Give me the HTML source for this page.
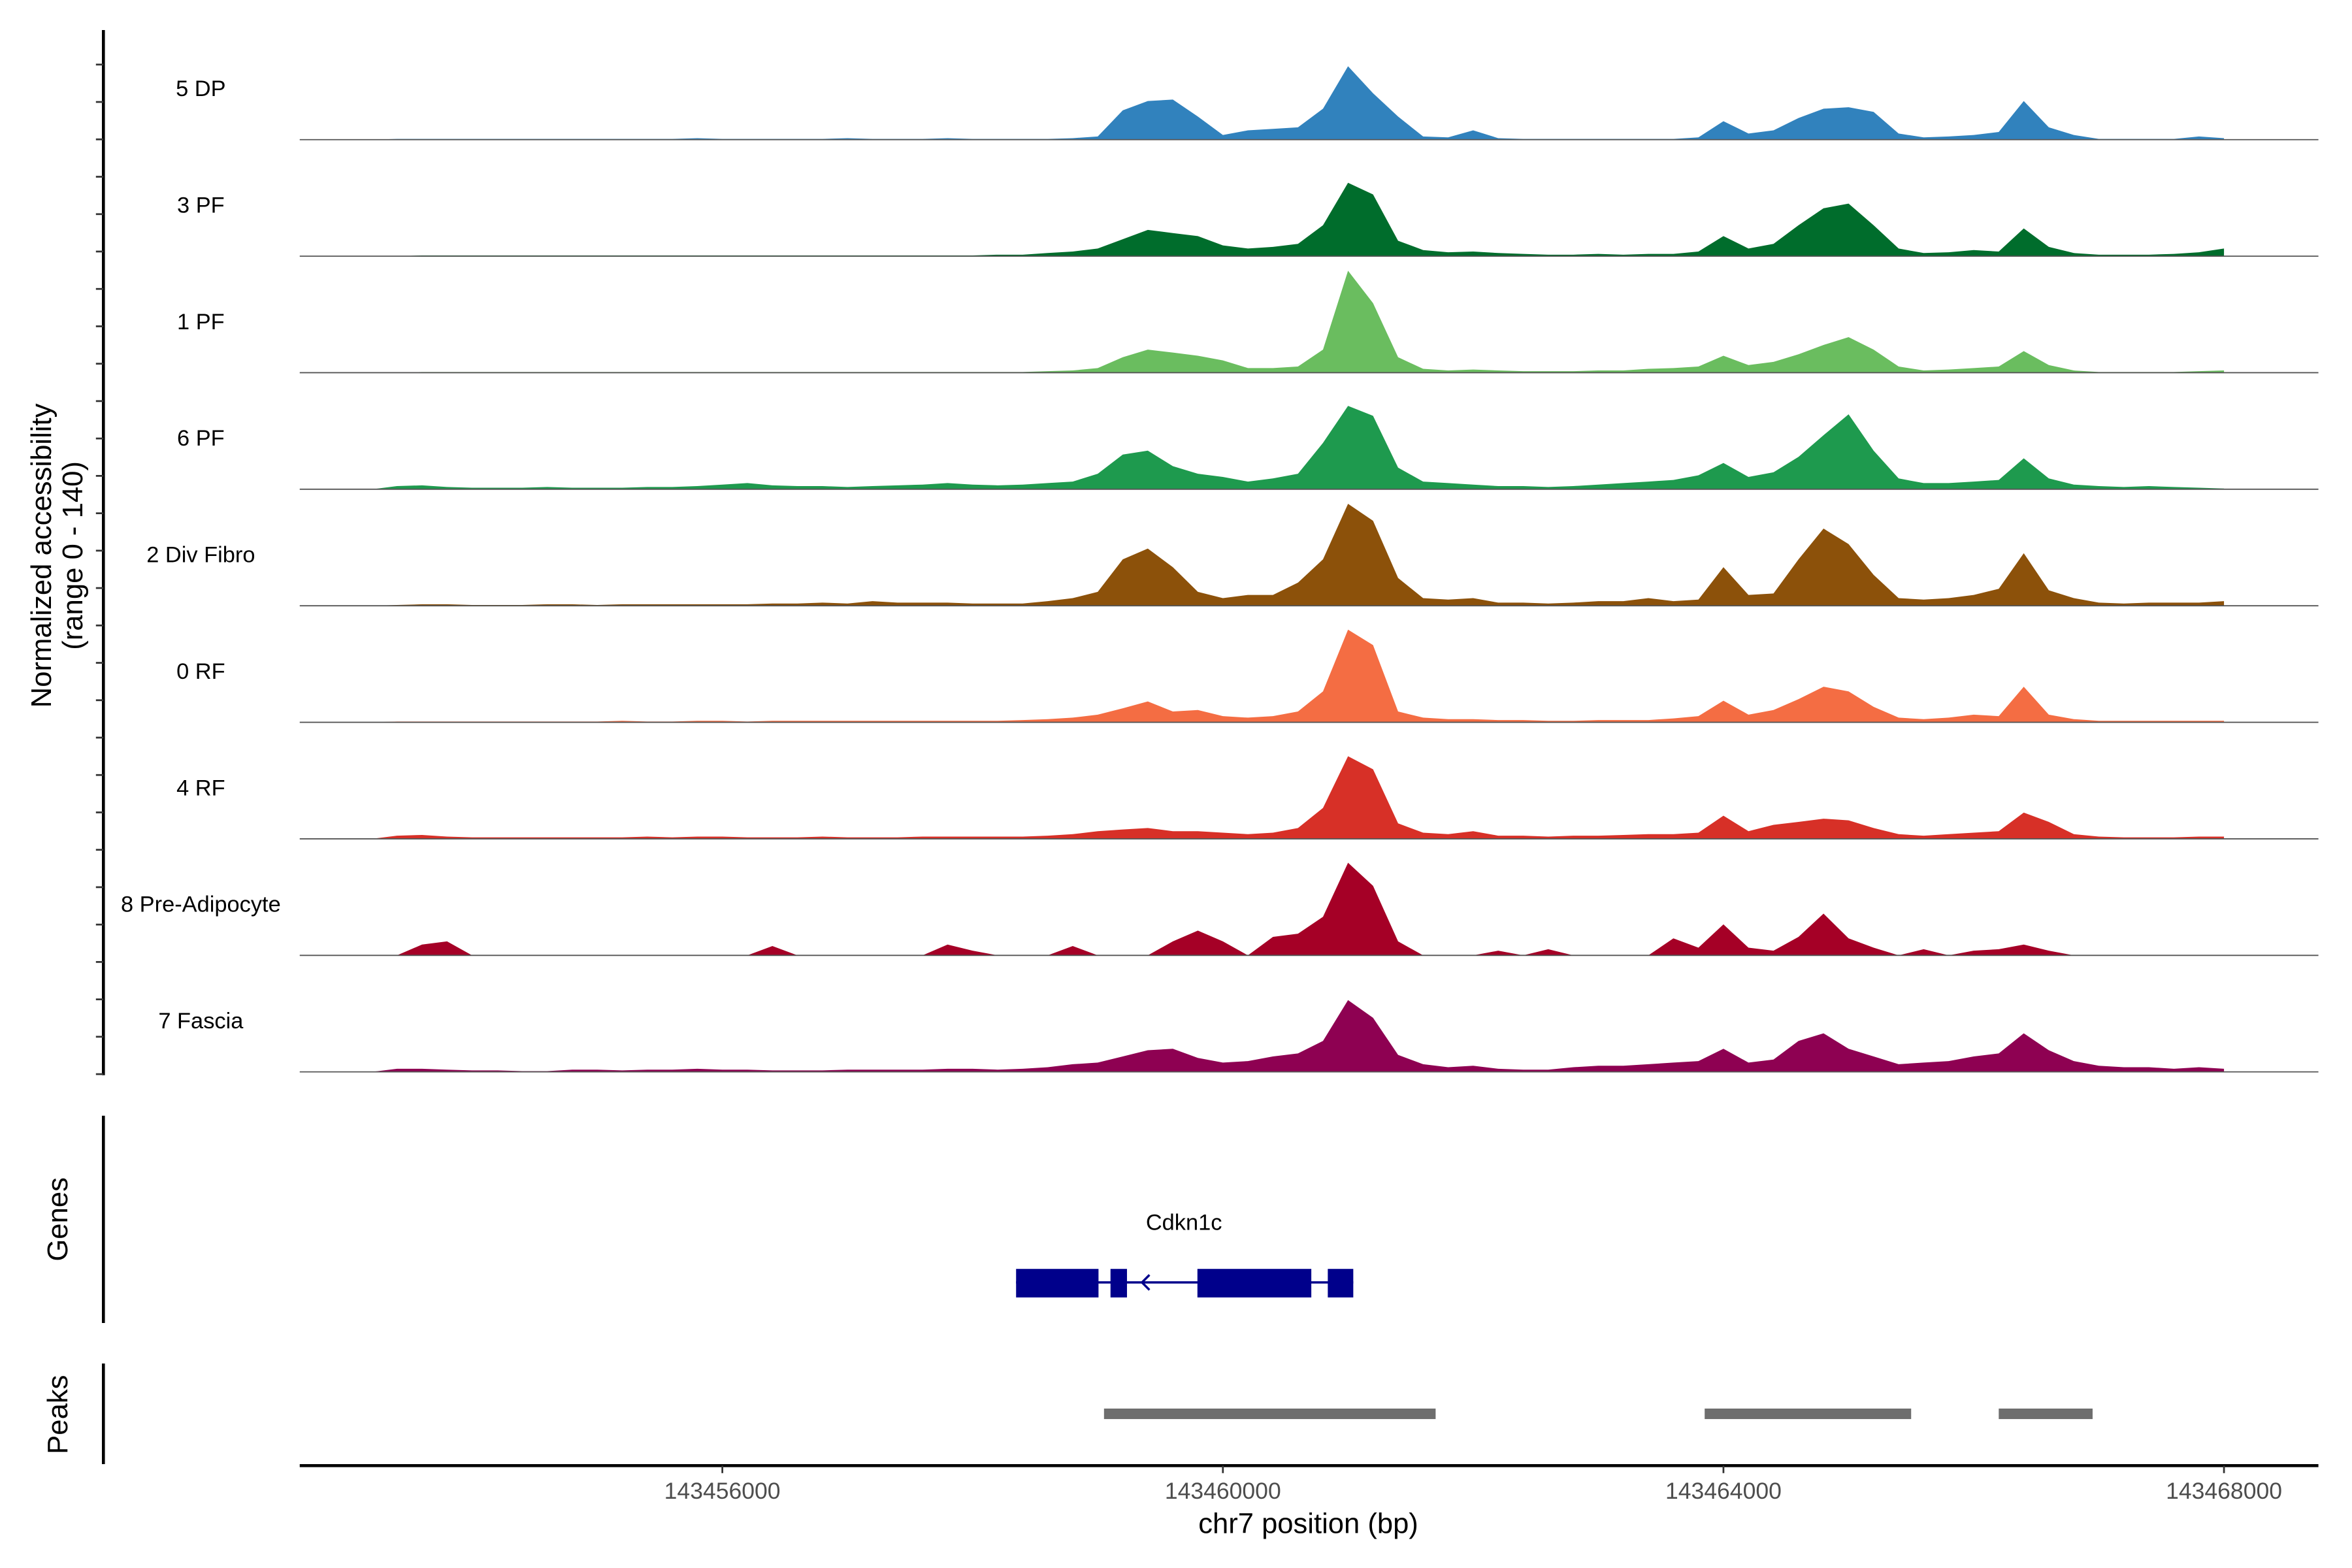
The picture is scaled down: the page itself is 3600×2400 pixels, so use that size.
<!DOCTYPE html>
<html><head><meta charset="utf-8"><style>
html,body{margin:0;padding:0;background:#fff;}
svg{display:block;font-family:"Liberation Sans",Arial,sans-serif;}
</style></head><body>
<svg id="chart" xmlns="http://www.w3.org/2000/svg" width="3600" height="2400" viewBox="0 0 1560 1040">
<rect width="1560" height="1040" fill="#fff"/>
<g transform="scale(0.994,0.996)">
<g id="tracks"></g>
<line x1="69" y1="20" x2="69" y2="716" stroke="#000" stroke-width="2"/>
<g id="yticks"></g>
<text transform="translate(34,370) rotate(-90)" text-anchor="middle" font-size="19"><tspan x="0" dy="0">Normalized accessibility</tspan><tspan x="0" dy="21">(range 0 - 140)</tspan></text>
<g>
<line x1="69" y1="743" x2="69" y2="881" stroke="#000" stroke-width="2"/>
<text transform="translate(45,812) rotate(-90)" text-anchor="middle" font-size="19">Genes</text>
<text x="790" y="819" text-anchor="middle" font-size="15">Cdkn1c</text>
<line x1="678" y1="854" x2="903" y2="854" stroke="#00008b" stroke-width="1.5"/>
<polyline points="767,849 762,854 767,859" fill="none" stroke="#00008b" stroke-width="1.5"/>
<rect x="678" y="845" width="55" height="19" fill="#00008b"/>
<rect x="741" y="845" width="11" height="19" fill="#00008b"/>
<rect x="799" y="845" width="76" height="19" fill="#00008b"/>
<rect x="886" y="845" width="17" height="19" fill="#00008b"/>
</g>
<g id="peaks">
<line x1="69" y1="908" x2="69" y2="975" stroke="#000" stroke-width="2"/>
<text transform="translate(45,942) rotate(-90)" text-anchor="middle" font-size="19">Peaks</text>
</g>
<g id="xaxis">
<line x1="200" y1="976" x2="1547" y2="976" stroke="#000" stroke-width="2"/>
</g>
<text x="873" y="1021" text-anchor="middle" font-size="19">chr7 position (bp)</text>
</g>
</svg>
<script>
const trackNames=["5 DP","3 PF","1 PF","6 PF","2 Div Fibro","0 RF","4 RF","8 Pre-Adipocyte","7 Fascia"];
const trackColors=["#3182bd","#006d2c","#6abd5f","#1e9a4e","#8c510a","#f46d43","#d73027","#a50026","#8e0152"];
const binStart=143452600;
const binSize=200;
const dp5=[0,0,0,0,1,1,1,1,1,1,1,1,1,1,1,1,2,1,1,1,1,1,2,1,1,1,2,1,1,1,1,2,4,38,50,52,30,6,12,14,16,40,95,60,30,4,3,12,2,1,1,1,1,1,1,1,3,24,8,12,28,40,42,36,8,3,4,6,10,50,16,6,1,1,1,1,4,2];
const pf3=[0,0,0,0,0,1,1,1,1,1,1,1,1,1,1,1,1,1,1,1,1,1,1,1,1,1,1,1,2,2,4,6,10,22,34,30,26,14,10,12,16,40,95,80,20,8,5,6,4,3,2,2,3,2,3,3,6,26,10,16,40,62,68,40,10,4,5,8,6,36,12,4,2,2,2,3,5,10];
const pf1=[0,0,0,0,0,1,1,1,1,1,1,1,1,1,1,1,1,1,1,1,1,1,1,1,1,1,1,1,1,1,2,3,6,20,30,26,22,16,6,6,8,30,132,90,20,5,3,4,3,2,2,2,3,3,5,6,8,22,10,14,24,36,46,30,8,3,4,6,8,28,10,3,1,1,1,1,2,3];
const pf6=[0,0,0,0,4,5,3,2,2,2,3,2,2,2,3,3,4,6,8,5,4,4,3,4,5,6,8,6,5,6,8,10,20,45,50,30,20,16,10,14,20,60,108,95,28,10,8,6,4,4,3,4,6,8,10,12,18,34,16,22,42,70,97,50,14,8,8,10,12,40,14,6,4,3,4,3,2,1];
const divFibro=[0,0,0,0,1,2,2,1,1,1,2,2,1,2,2,2,2,2,2,3,3,4,3,6,4,4,4,3,3,3,6,10,18,60,74,50,18,10,14,14,30,60,132,110,36,10,8,10,4,4,3,4,6,6,10,6,8,50,14,16,60,100,80,40,10,8,10,14,22,68,20,10,4,3,4,4,4,6];
const rf0=[0,0,0,0,1,1,1,1,1,1,1,1,1,2,1,1,2,2,1,2,2,2,2,2,2,2,2,2,2,3,4,6,10,18,27,14,16,8,6,8,14,40,120,100,14,6,4,4,3,3,2,2,3,3,3,5,8,28,10,16,30,46,40,20,6,4,6,10,8,46,10,4,2,2,2,2,2,2];
const rf4=[0,0,0,0,4,5,3,2,2,2,2,2,2,2,3,2,3,3,2,2,2,3,2,2,2,3,3,3,3,3,4,6,10,12,14,10,10,8,6,8,14,40,107,90,20,8,6,10,4,4,3,4,4,5,6,6,8,30,10,18,22,26,24,14,6,4,6,8,10,34,22,6,3,2,2,2,3,3];
const preAdipo=[0,0,0,0,0,14,18,0,0,0,0,0,0,0,0,0,0,0,0,12,0,0,0,0,0,0,14,6,0,0,0,12,0,0,0,18,32,18,0,24,28,50,120,90,18,0,0,0,6,0,8,0,0,0,0,22,10,40,10,6,24,54,22,10,0,8,0,6,8,14,6,0,0,0,0,0,0,0];
const fascia=[0,0,0,0,4,4,3,2,2,1,1,3,3,2,3,3,4,3,3,2,2,2,3,3,3,3,4,4,3,4,6,10,12,20,28,30,18,12,14,20,24,40,93,70,22,10,6,8,4,3,3,6,8,8,10,12,14,30,12,16,40,50,30,20,10,12,14,20,24,50,28,14,8,6,6,4,6,4];
const trackValues=[dp5,pf3,pf1,pf6,divFibro,rf0,rf4,preAdipo,fascia];
const peakStarts=[143459050,143463850,143466200];
const peakEnds=[143461700,143465500,143466950];
const xTicks=[143456000,143460000,143464000,143468000];

const NS="http://www.w3.org/2000/svg";
function xScale(bp){return 816+(bp-143460000)*334/4000;}
const baseY0=93, trackStep=77.6, unitPx=72/140;
function yScale(v,t){return baseY0+t*trackStep - v*unitPx;}
function mk(tag,attrs){const e=document.createElementNS(NS,tag);for(const k in attrs)e.setAttribute(k,attrs[k]);return e;}

const tracks=document.getElementById('tracks');
trackValues.forEach((vals,t)=>{
  const g=mk('g',{});
  
  
  const base=yScale(0,t);
  let d='M'+xScale(binStart).toFixed(1)+','+base;
  vals.forEach((v,i)=>{d+=' L'+xScale(binStart+i*binSize).toFixed(1)+','+yScale(v,t).toFixed(1);});
  d+=' L'+xScale(binStart+(vals.length-1)*binSize).toFixed(1)+','+base+' Z';
  const p=mk('path',{d:d,fill:trackColors[t]});
  
  
  g.appendChild(p);
  const l=mk('line',{x1:200,x2:1547,y1:base,y2:base,stroke:'#555','stroke-width':0.8});
  
  
  g.appendChild(l);
  const tx=mk('text',{x:134,y:base-29,'text-anchor':'middle','font-size':15,fill:'#000'});
  
  
  tx.textContent=trackNames[t];
  g.appendChild(tx);
  tracks.appendChild(g);
});

const yt=document.getElementById('yticks');
for(let y=43;y<716;y+=24.9){
  const l=mk('line',{x1:64,x2:69,y1:y,y2:y,stroke:'#333','stroke-width':1.2});
  
  
  yt.appendChild(l);
}

const pk=document.getElementById('peaks');
peakStarts.forEach((s,i)=>{
  const r=mk('rect',{x:xScale(s),y:938,width:xScale(peakEnds[i])-xScale(s),height:7,fill:'#6e6e6e'});
  
  
  pk.appendChild(r);
});

const xa=document.getElementById('xaxis');
xTicks.forEach(v=>{
  const x=xScale(v);
  const l=mk('line',{x1:x,x2:x,y1:976,y2:981,stroke:'#333','stroke-width':1.2});
  
  
  xa.appendChild(l);
  const t=mk('text',{x:x,y:998,'text-anchor':'middle','font-size':15.5,fill:'#4d4d4d'});
  
  
  t.textContent=String(v);
  xa.appendChild(t);
});
</script>
</body></html>
